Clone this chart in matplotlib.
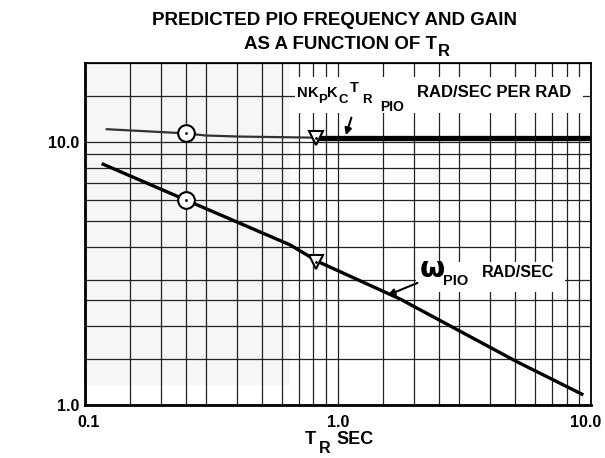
'''
Predicted PIO frequency and gain as a function of the
roll time constant T_R, on log-log grid paper
'''

import matplotlib.pyplot as plt
from matplotlib.patches import Rectangle
from matplotlib.transforms import ScaledTranslation


# ========================================================================
# data
# ========================================================================

# gain curve NKpKcTR (rad/sec per rad), thin part then thick part
gain_T_thin = [0.122, 0.25, 0.30, 0.41, 0.82]
gain_K_thin = [11.2, 10.8, 10.6, 10.5, 10.4]
gain_T_thick = [0.82, 10.0]
gain_K_thick = [10.4, 10.4]

# PIO frequency (rad/sec)
freq_T = [0.118, 0.248, 0.645, 0.84, 1.76, 5.1, 9.2]
freq_W = [8.24, 6.05, 4.07, 3.50, 2.53, 1.46, 1.10]

# highlighted cases (circle / triangle)
mark_T = [0.25, 0.82]
mark_gain = [10.8, 10.4]
mark_freq = [6.05, 3.50]

# grid paper lines
grid_x = [0.1, 0.15, 0.2, 0.25, 0.3, 0.4, 0.5, 0.6, 0.7, 0.8, 0.9,
          1.0, 1.5, 2, 2.5, 3, 4, 5, 6, 7, 8, 9, 10]
grid_y = [1, 1.5, 2, 2.5, 3, 4, 5, 6, 7, 8, 9, 10, 15, 20]

x_ticks = [0.1, 1.0, 10.0]
x_ticklabels = ['0.1', '1.0', '10.0']
y_ticks = [1.0, 10.0]
y_ticklabels = ['1.0', '10.0']

# ========================================================================
# functions
# ========================================================================

def label_piece(ax, x, y, s, size):
    '''
    Put one piece of a curve label (axes fraction, baseline aligned)
    '''
    ax.text(x, y, s, transform=ax.transAxes, fontsize=size,
            fontweight='bold', va='baseline', ha='left', zorder=5)


def shift_label(label, dx_px):
    '''
    Nudge a tick label sideways by dx_px pixels
    '''
    offset = ScaledTranslation(dx_px/100., 0, label.figure.dpi_scale_trans)
    label.set_transform(label.get_transform() + offset)

# ========================================================================
# plot
# ========================================================================

plt.rcParams['font.family'] = ['Liberation Sans', 'DejaVu Sans']
plt.rcParams['font.weight'] = 'bold'
plt.rcParams['mathtext.default'] = 'regular'

fig = plt.figure(figsize=(6.05, 4.58), dpi=100)
ax = fig.add_axes([0.1405, 0.1157, 0.8364, 0.7467])
ax.set_xscale('log')
ax.set_yscale('log')
ax.set_xlim(0.1, 10)
ax.set_ylim(1, 20)

# faded patch on the scanned paper
ax.add_patch(Rectangle((0, 0.058), 0.405, 0.942, transform=ax.transAxes,
                       facecolor='#f6f6f6', edgecolor='none', zorder=0))

# grid paper
for gx in grid_x:
    ax.axvline(gx, color='#222222', linewidth=0.9, zorder=0.5)
for gy in grid_y:
    ax.axhline(gy, color='#222222', linewidth=0.9, zorder=0.5)

ax.set_xticks(x_ticks)
ax.set_xticklabels(x_ticklabels)
ax.set_yticks(y_ticks)
ax.set_yticklabels(y_ticklabels)
ax.minorticks_off()
ax.tick_params(axis='both', length=0, labelsize=11.5)
ax.tick_params(axis='x', pad=7)
ax.tick_params(axis='y', pad=4)

xlabels = ax.get_xticklabels()
shift_label(xlabels[0], 4)
shift_label(xlabels[2], -5)

for side in ['left', 'bottom']:
    ax.spines[side].set_linewidth(2.0)
for side in ['top', 'right']:
    ax.spines[side].set_linewidth(1.3)

# white boxes behind the curve labels
ax.add_patch(Rectangle((0.415, 0.854), 0.569, 0.105, transform=ax.transAxes,
                       facecolor='white', edgecolor='none', zorder=1))
ax.add_patch(Rectangle((0.654, 0.330), 0.295, 0.088, transform=ax.transAxes,
                       facecolor='white', edgecolor='none', zorder=1))

# curves
ax.plot(gain_T_thin, gain_K_thin, color='#333333', linewidth=1.6, zorder=3)
ax.plot(gain_T_thick, gain_K_thick, color='black', linewidth=3.8,
        solid_capstyle='butt', zorder=3)
ax.plot(freq_T, freq_W, color='black', linewidth=2.4, zorder=3)

# markers
ax.plot(mark_T[0], mark_gain[0], 'o', markersize=12, markerfacecolor='white',
        markeredgecolor='black', markeredgewidth=1.5, zorder=4)
ax.plot(mark_T[0], mark_freq[0], 'o', markersize=12, markerfacecolor='white',
        markeredgecolor='black', markeredgewidth=1.5, zorder=4)
ax.plot(mark_T[1], mark_gain[1], 'v', markersize=10, markerfacecolor='white',
        markeredgecolor='black', markeredgewidth=1.5, zorder=4)
ax.plot(mark_T[1], mark_freq[1], 'v', markersize=10, markerfacecolor='white',
        markeredgecolor='black', markeredgewidth=1.5, zorder=4)
ax.plot(mark_T, mark_gain, '.', markersize=2, color='black', zorder=5)
ax.plot(mark_T, mark_freq, '.', markersize=2, color='black', zorder=5)

# gain label: N K_P K_C T_R_PIO  RAD/SEC PER RAD
label_piece(ax, 0.419, 0.901, 'N', 10.5)
label_piece(ax, 0.4397, 0.901, 'K', 10.5)
label_piece(ax, 0.4605, 0.883, 'P', 9.5)
label_piece(ax, 0.4792, 0.901, 'K', 10.5)
label_piece(ax, 0.501, 0.883, 'C', 9.5)
label_piece(ax, 0.5237, 0.915, 'T', 10.5)
label_piece(ax, 0.5474, 0.883, 'R', 9.5)
label_piece(ax, 0.583, 0.860, 'PIO', 10)
label_piece(ax, 0.656, 0.901, 'RAD/SEC PER RAD', 12)
ax.annotate('', xy=(0.514, 0.781), xytext=(0.528, 0.848),
            xycoords='axes fraction', textcoords='axes fraction',
            arrowprops=dict(arrowstyle='-|>', color='black', lw=1.5,
                            mutation_scale=10), zorder=5)

# frequency label: omega_PIO RAD/SEC
ax.text(0.660, 0.374, r'$\mathbf{\omega}$', transform=ax.transAxes,
        fontsize=21, va='baseline', ha='left', zorder=5)
label_piece(ax, 0.707, 0.350, 'PIO', 10.5)
label_piece(ax, 0.785, 0.374, 'RAD/SEC', 11.5)
ax.annotate('', xy=(0.593, 0.318), xytext=(0.662, 0.360),
            xycoords='axes fraction', textcoords='axes fraction',
            arrowprops=dict(arrowstyle='-|>', color='black', lw=1.5,
                            mutation_scale=10), zorder=5)

# titles
fig.text(0.553, 0.945, 'PREDICTED PIO FREQUENCY AND GAIN',
         fontsize=13.5, fontweight='bold', ha='center', va='baseline')
fig.text(0.722, 0.893, 'AS A FUNCTION OF T',
         fontsize=13.5, fontweight='bold', ha='right', va='baseline')
fig.text(0.724, 0.877, 'R', fontsize=12, fontweight='bold',
         ha='left', va='baseline')
fig.text(0.504, 0.030, 'T', fontsize=13, fontweight='bold',
         ha='left', va='baseline')
fig.text(0.527, 0.012, 'R', fontsize=11.5, fontweight='bold',
         ha='left', va='baseline')
fig.text(0.556, 0.030, 'SEC', fontsize=13, fontweight='bold',
         ha='left', va='baseline')

plt.savefig('out.png', dpi=100)
